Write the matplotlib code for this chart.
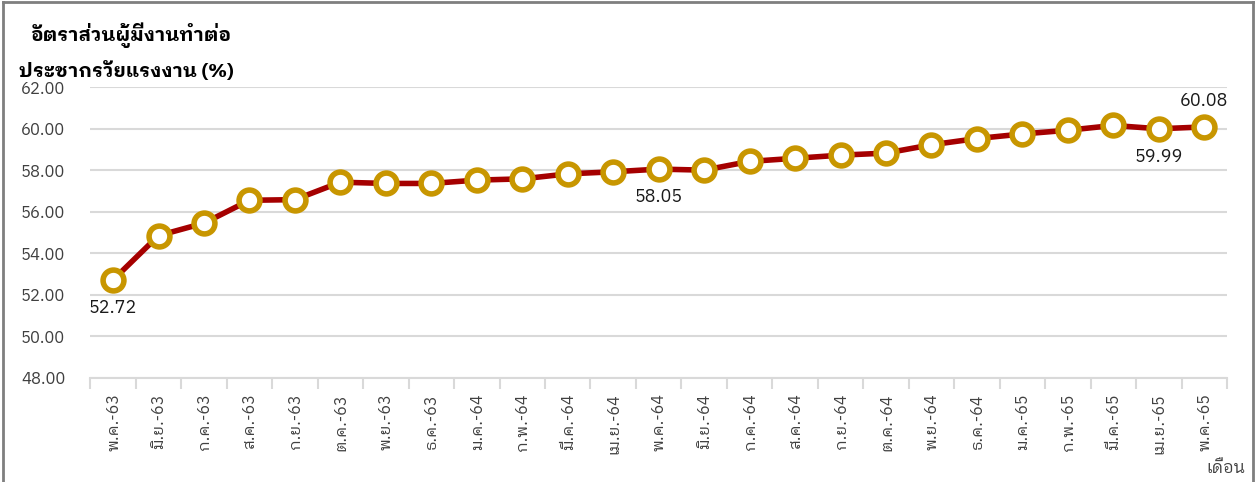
import matplotlib
matplotlib.use("Agg")
import matplotlib.pyplot as plt
from matplotlib import font_manager
from matplotlib.ft2font import FT2Font
from matplotlib.lines import Line2D

# ---------------- DATA ---------------- #

months = ["พ.ค.-63", "มิ.ย.-63", "ก.ค.-63", "ส.ค.-63", "ก.ย.-63", "ต.ค.-63",
          "พ.ย.-63", "ธ.ค.-63", "ม.ค.-64", "ก.พ.-64", "มี.ค.-64", "เม.ย.-64",
          "พ.ค.-64", "มิ.ย.-64", "ก.ค.-64", "ส.ค.-64", "ก.ย.-64", "ต.ค.-64",
          "พ.ย.-64", "ธ.ค.-64", "ม.ค.-65", "ก.พ.-65", "มี.ค.-65", "เม.ย.-65",
          "พ.ค.-65"]
ratio = [52.72, 54.85, 55.45, 56.55, 56.58, 57.42, 57.36, 57.36, 57.52, 57.58,
         57.82, 57.92, 58.05, 58.00, 58.42, 58.57, 58.72, 58.82, 59.22, 59.52,
         59.74, 59.92, 60.15, 59.99, 60.08]
labelled = {0: "below", 12: "below", 23: "below", 24: "above"}

# ---------------- FONT ---------------- #

thai_fonts = []
for f in font_manager.fontManager.ttflist:
    try:
        if FT2Font(f.fname).get_char_index(ord("ก")):
            thai_fonts.append(f.name)
    except Exception:
        pass
thai_fonts = sorted(set(thai_fonts))
# looped Thai faces look closer to the original, try them first
preferred = [n for n in thai_fonts if "Looped" in n or n in ("Loma", "Garuda", "Tahoma")]
plt.rcParams["font.family"] = preferred + [n for n in thai_fonts if n not in preferred] + ["DejaVu Sans"]

# ---------------- PLOT ---------------- #

fig = plt.figure(figsize=(12.56, 4.82), dpi=100)
ax = fig.add_axes([0.0719, 0.2158, 0.905, 0.6037])

x = list(range(len(months)))
ax.plot(x, ratio, color="#A50000", lw=4, zorder=3,
        marker="o", markersize=15, markerfacecolor="white",
        markeredgecolor="#C89600", markeredgewidth=4)

for i, pos in labelled.items():
    off = -20 if pos == "below" else 19
    ax.annotate(f"{ratio[i]:.2f}", (i, ratio[i]), xytext=(0, off),
                textcoords="offset points", ha="center", va="center",
                fontsize=13, color="#1a1a1a")

ax.set_xlim(-0.5, len(months) - 0.5)
ax.set_ylim(48, 62)
ax.set_yticks(range(48, 63, 2))
ax.set_yticklabels([f"{v:.2f}" for v in range(48, 63, 2)], fontsize=12, color="#404040")
ax.yaxis.grid(True, color="#d9d9d9", lw=1.5)
ax.set_axisbelow(True)
ax.tick_params(axis="y", length=0, pad=18)

ax.set_xticks(x)
ax.set_xticklabels(months, rotation=90, fontsize=11.5, color="#404040")
ax.set_xticks([i - 0.5 for i in range(len(months) + 1)], minor=True)
ax.tick_params(axis="x", which="major", length=0, pad=11)
ax.tick_params(axis="x", which="minor", length=8, color="#d9d9d9", width=1.5)

for s in ["top", "right", "left"]:
    ax.spines[s].set_visible(False)
ax.spines["bottom"].set_color("#d9d9d9")
ax.spines["bottom"].set_linewidth(1.5)

fig.text(0.024, 0.928, "อัตราส่วนผู้มีงานทำต่อ", fontsize=14, fontweight="bold",
         va="center", ha="left")
fig.text(0.015, 0.853, "ประชากรวัยแรงงาน (%)", fontsize=14, fontweight="bold",
         va="center", ha="left")
fig.text(0.992, 0.03, "เดือน", fontsize=12, color="#404040", ha="right", va="center")

# grey frame round the figure
for xs, ys in [([0.002, 0.002], [0, 0.996]), ([0.002, 0.998], [0.996, 0.996]),
               ([0.998, 0.998], [0, 0.996])]:
    fig.add_artist(Line2D(xs, ys, color="#7f7f7f", lw=2, transform=fig.transFigure))

fig.savefig("out.png", dpi=100)
